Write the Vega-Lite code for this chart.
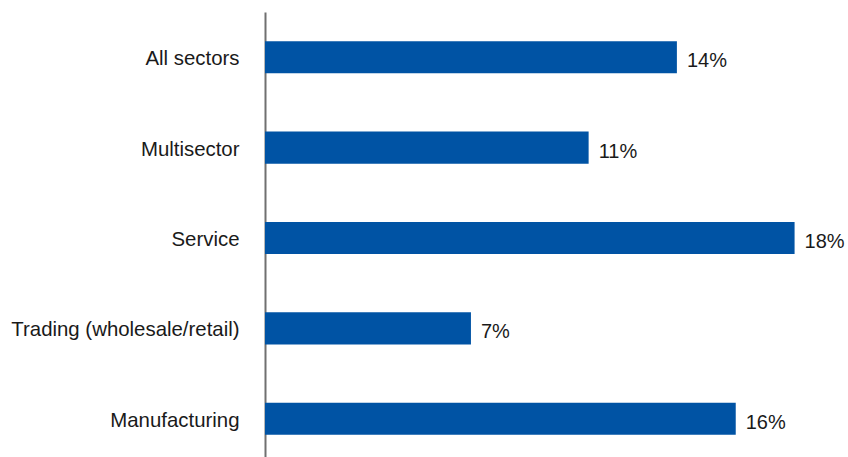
{
  "$schema": "https://vega.github.io/schema/vega-lite/v6.json",
  "autosize": {"type": "none"},
  "padding": {"left": 265, "top": 12, "right": 24, "bottom": 0},
  "width": 559,
  "height": 452,
  "background": "white",
  "config": {"view": {"stroke": null}},
  "data": {"values": [
    {"sector": "All sectors", "value": 0.14},
    {"sector": "Multisector", "value": 0.11},
    {"sector": "Service", "value": 0.18},
    {"sector": "Trading (wholesale/retail)", "value": 0.07},
    {"sector": "Manufacturing", "value": 0.16}
  ]},
  "encoding": {
    "y": {"field": "sector", "type": "nominal", "sort": null,
      "scale": {"paddingInner": 0.645, "paddingOuter": 0.3225},
      "axis": {"title": null, "ticks": false, "labelFont": "Liberation Sans", "labelFontSize": 20.4, "labelColor": "#1a1a1a", "labelPadding": 26, "labelOffset": 2, "domainColor": "#707070", "domainWidth": 2, "labelLimit": 300}},
    "x": {"field": "value", "type": "quantitative", "scale": {"domain": [0, 0.19]}, "axis": null}
  },
  "layer": [
    {"mark": {"type": "bar", "color": "#0053A4"}},
    {"mark": {"type": "text", "align": "left", "dx": 10, "font": "Liberation Sans", "fontSize": 20, "color": "#1a1a1a", "baseline": "middle", "dy": 4},
     "encoding": {"text": {"field": "value", "type": "quantitative", "format": ".0%"}}}
  ]
}
